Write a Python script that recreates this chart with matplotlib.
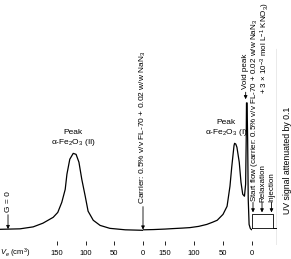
import matplotlib
matplotlib.use("Agg")
import matplotlib.pyplot as plt

plt.rcParams["font.family"] = ["Liberation Sans", "DejaVu Sans"]
plt.rcParams["mathtext.fontset"] = "custom"
plt.rcParams["mathtext.rm"] = "Liberation Sans"
plt.rcParams["mathtext.it"] = "Liberation Sans:italic"

# first run: elution volume (cm3) vs UV signal (arbitrary units)
v1 = [250, 215, 192, 175, 157, 149, 142, 136, 133, 128, 122, 117, 112, 107,
      101, 96, 87, 75, 58, 31, 0]
s1 = [0.4, 0.6, 1.4, 2.9, 5.3, 7.3, 11.4, 16.7, 22.9, 29.0, 31.4, 31.0, 27.8,
      20.8, 13.9, 7.8, 4.1, 2.0, 0.8, 0.2, 0.0]

# second run
v2 = [188, 170, 150, 136, 120, 107, 92, 78, 68, 60, 50, 43, 38, 35, 33, 31,
      30, 28, 26, 22, 19, 16, 13, 11, 10, 9.5, 8.5, 7.5, 6.5, 5, 3, 1.5, 0]
s2 = [0.2, 0.3, 0.5, 0.7, 0.9, 1.1, 1.6, 2.4, 3.3, 4.1, 6.5, 9.8, 18.0, 25.7,
      30.2, 34.6, 35.5, 35.2, 33.9, 27.8, 19.6, 14.7, 13.9, 18.8, 37.0, 52.0,
      52.0, 37.0, 12.7, 2.4, 0.8, 0.4, 0.2]

# start-up segment (arbitrary time units)
t3 = [0.0, 0.0, 0.84, 0.84, 1.0]
s3 = [0.8, 6.5, 6.5, 0.8, 0.8]
t3_base = [0.0, 1.0]
s3_base = [0.8, 0.8]
stage_t = [0.04, 0.4, 0.78]
stage_text_t = [0.1, 0.42, 0.78]
stage_labels = ["Start flow (carrier: 0.5% v/v FL-70 + 0.02 w/w NaN$_3$",
                "Relaxation", "Injection"]
carrier_cont = "+ 3 \u00d7 10$^{-3}$ mol L$^{-1}$ KNO$_3$)"
box_edge = 1.0
box_top = 74

ticks = [150, 100, 50, 0]
ylo, yhi = -6, 94

W, H = 291, 259
fig = plt.figure(figsize=(W / 100, H / 100), dpi=100)
bot = (H - 245) / H
ht = 245 / H
ax1 = fig.add_axes([0, bot, 143 / W, ht])
ax2 = fig.add_axes([143 / W, bot, 109 / W, ht])
ax3 = fig.add_axes([252 / W, bot, 25 / W, ht])

for ax in (ax1, ax2, ax3):
    ax.set_ylim(ylo, yhi)
    ax.patch.set_visible(False)
    for sp in ax.spines.values():
        sp.set_visible(False)
    ax.set_yticks([])
ax1.set_xlim(250, 0)
ax2.set_xlim(188, 0)
ax3.set_xlim(0, 1)
ax3.set_xticks([])
for ax in (ax1, ax2):
    ax.set_xticks(ticks)
    ax.tick_params(axis="x", direction="in", length=3, width=0.6,
                   labelsize=5.5, pad=3.5)

lw = 0.9
fs = 6
ax1.plot(v1, s1, color="black", lw=lw)
ax2.plot(v2, s2, color="black", lw=lw, zorder=3)
ax3.plot(t3, s3, color="black", lw=0.6)
ax3.plot(t3_base, s3_base, color="black", lw=0.6)
ax3.plot([box_edge, box_edge], [ylo, box_top], color="0.35", lw=0.9)

for ax in (ax1, ax2):
    ax.plot([0, 0], [ylo, 0], color="black", lw=0.6, ls=(0, (2, 1.5)))

arrow = dict(arrowstyle="-|>", lw=0.6, color="black", mutation_scale=5,
             shrinkA=0, shrinkB=0)

ax1.annotate("G = 0", xy=(236, 0.5), xytext=(236, 7.5), rotation=90,
             ha="center", va="bottom", fontsize=fs, arrowprops=arrow)
ax1.annotate("Carrier: 0.5% v/v FL-70 + 0.02 w/w NaN$_3$", xy=(0, 0.3),
             xytext=(0, 10.8), rotation=90, ha="center", va="bottom",
             fontsize=fs, arrowprops=arrow, annotation_clip=False)
ax1.text(122, 33.5, "Peak\n\u03b1-Fe$_2$O$_3$ (II)", ha="center", va="bottom",
         fontsize=fs, linespacing=1.2)
ax2.text(45, 37.5, "Peak\n\u03b1-Fe$_2$O$_3$ (I)", ha="center", va="bottom",
         fontsize=fs, linespacing=1.2, zorder=1)
ax2.annotate("Void peak", xy=(11, 53.5), xytext=(10.5, 57.5), rotation=90,
             ha="center", va="bottom", fontsize=5.8, arrowprops=arrow)

for t, tt, lab in zip(stage_t, stage_text_t, stage_labels):
    ax3.annotate("", xy=(t, 7.3), xytext=(t, 11.4), arrowprops=arrow,
                 annotation_clip=False)
    ax3.text(tt, 11.4, lab, rotation=90, ha="center", va="bottom",
             fontsize=5.8, clip_on=False)
ax3.text(0.52, 93, carrier_cont, rotation=90, ha="center", va="top",
         fontsize=5.8, clip_on=False)
ax3.text(1.4, 6.5, "UV signal attenuated by 0.1", rotation=90, ha="center",
         va="bottom", fontsize=6.3, clip_on=False)

fig.text(0, (H - 253) / H, "$V_e$ (cm$^3$)", ha="left", va="center",
         fontsize=5.5)

fig.savefig("out.png", dpi=100)
